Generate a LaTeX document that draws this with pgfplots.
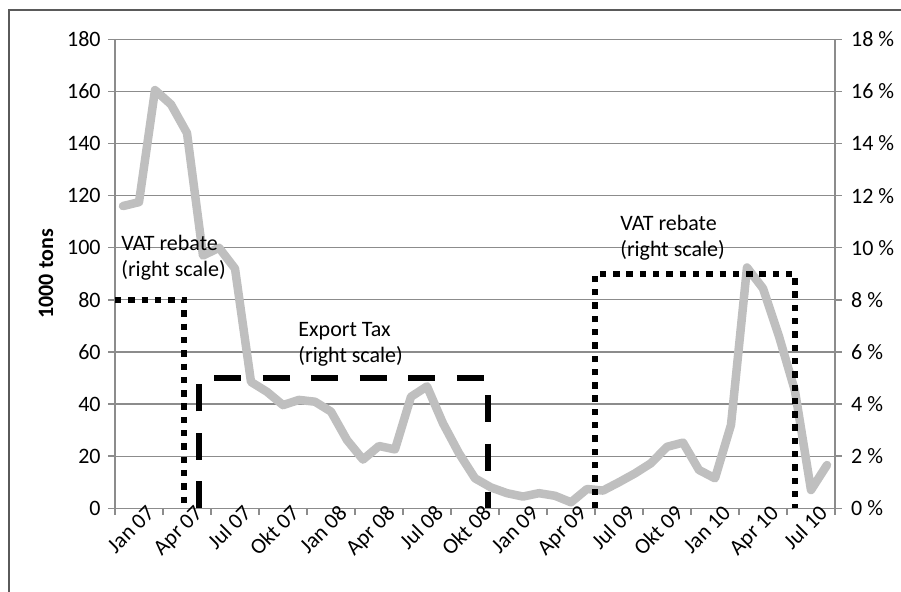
\documentclass[border=0pt]{standalone}
\usepackage{pgfplots}
\pgfplotsset{compat=1.18}
\usepackage{fontspec}
\setmainfont{Carlito}
\definecolor{gridgray}{RGB}{140,140,140}
\definecolor{linegray}{RGB}{191,191,191}
\definecolor{framegray}{RGB}{90,90,90}
\begin{document}
\begin{tikzpicture}
\useasboundingbox (0,0) rectangle (450.5pt,296pt);
\draw[framegray, line width=0.8pt] (4.5pt,0pt) -- (4.5pt,291pt) -- (450.5pt,291pt);
\pgfplotsset{
  every axis/.append style={
    scale only axis, width=360pt, height=234.5pt,
    at={(57.5pt,41.85pt)}, anchor=south west,
    xmin=-0.5, xmax=44.5,
    /pgf/number format/assume math mode=true,
    tick label style={font=\fontsize{11}{13}\selectfont},
    tick align=outside,
    major tick length=3.3pt,
    minor tick length=3.3pt,
    axis line style={draw=gridgray, line width=0.7pt},
    tick style={draw=gridgray, line width=0.7pt},
  }
}
\begin{axis}[
  ymin=0, ymax=180, ytick={0,20,...,180},
  axis y line*=left, axis x line*=bottom,
  ymajorgrids, grid style={draw=gridgray, line width=0.6pt},
  xtick={0,3,...,42},
  xticklabels={Jan 07,Apr 07,Jul 07,Okt 07,Jan 08,Apr 08,Jul 08,Okt 08,Jan 09,Apr 09,Jul 09,Okt 09,Jan 10,Apr 10,Jul 10},
  major x tick style={draw=none},
  minor xtick={-0.5,2.5,...,44.5},
  xticklabel style={rotate=45, anchor=north east, inner sep=0pt, xshift=12pt, yshift=-4pt},
  yticklabel style={anchor=east, inner sep=0pt, xshift=-3.7pt},
  ylabel={\textbf{1000 tons}},
  ylabel style={at={(axis description cs:-0.0958,0.5)}, anchor=center, font=\fontsize{11}{13}\selectfont},
]
\addplot[linegray, line width=4.25pt, line join=round, line cap=round] coordinates {
(0,116)(1,117.5)(2,160.5)(3,155)(4,144)(5,97)(6,100)(7,92)(8,48.5)(9,44.7)
(10,39.6)(11,41.6)(12,40.9)(13,37.1)(14,26.2)(15,18.7)(16,23.9)(17,22.6)(18,42.8)(19,46.8)
(20,32.6)(21,21.1)(22,11.5)(23,8)(24,5.8)(25,4.5)(26,5.8)(27,4.8)(28,2.3)(29,7.4)
(30,6.8)(31,10)(32,13.4)(33,17.3)(34,23.6)(35,25.2)(36,14.7)(37,11.5)(38,32)(39,92.4)
(40,84.4)(41,66)(42,45)(43,7)(44,16.6)
};
\node[anchor=north west, align=left, inner sep=0pt, font=\fontsize{11}{13}\selectfont] at (axis cs:-0.125,104.9) {VAT rebate\\(right scale)};
\node[anchor=north west, align=left, inner sep=0pt, font=\fontsize{11}{13}\selectfont] at (axis cs:10.94,71.6) {Export Tax\\(right scale)};
\node[anchor=north west, align=left, inner sep=0pt, font=\fontsize{11}{13}\selectfont] at (axis cs:31.06,112.5) {VAT rebate\\(right scale)};
\end{axis}
\begin{axis}[
  ymin=0, ymax=18, ytick={0,2,...,18},
  axis y line*=right, axis x line=none,
  yticklabel={\pgfmathprintnumber{\tick}~\%},
  yticklabel style={anchor=west, inner sep=0pt, xshift=4.6pt},
  clip=false,
]
\addplot[black, line width=2.8pt, dash pattern=on 3.2pt off 3.45pt] coordinates {(-0.5,8)(3.83,8)(3.83,0)};
\addplot[black, line width=3pt, dash pattern=on 13.5pt off 10.75pt] coordinates {(4.76,0)(4.76,5)(22.83,5)(22.83,0)};
\addplot[black, line width=2.8pt, dash pattern=on 3.2pt off 3.45pt] coordinates {(29.5,0)(29.5,9)(42.0,9)(42.0,0)};
\end{axis}
\end{tikzpicture}
\end{document}
